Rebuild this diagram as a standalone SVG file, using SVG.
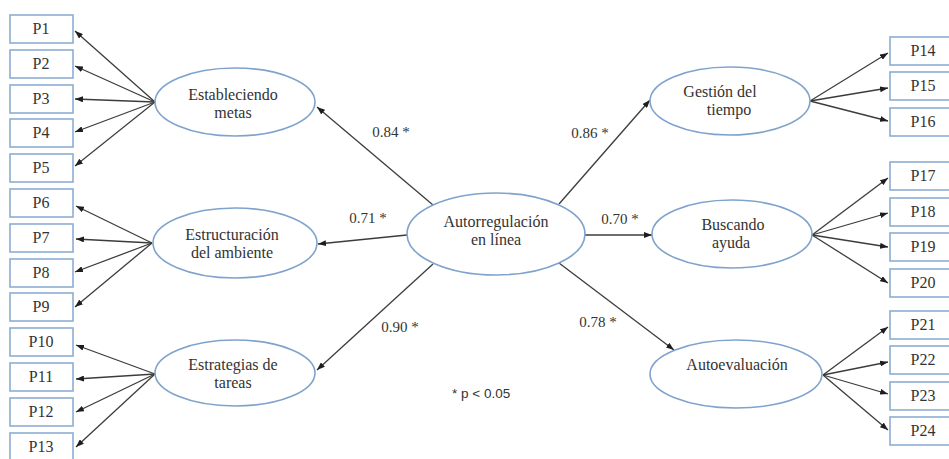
<svg xmlns="http://www.w3.org/2000/svg" width="949" height="459" viewBox="0 0 949 459">
<defs>
<marker id="ah" viewBox="0 0 8 6" refX="8" refY="3" markerWidth="8" markerHeight="6" markerUnits="userSpaceOnUse" orient="auto"><path d="M0,0 L8,3 L0,6 z" fill="#1e1e1e"/></marker>
</defs>
<style>
.box{fill:#fff;stroke:#8cadd3;stroke-width:1.6}
.ell{fill:#fff;stroke:#7fa3cc;stroke-width:1.6}
text.t{font-family:'Liberation Serif','Times New Roman',serif;font-size:15px;fill:#333;text-anchor:middle}
text.b{font-size:16px}
.c line{stroke:#3c3c3c;stroke-width:1.3;marker-end:url(#ah)}
text.n{font-family:'Liberation Sans',Arial,sans-serif;font-size:13.5px;fill:#333}
</style>
<rect width="949" height="459" fill="#fff"/>
<g class="c" id="connectors">
<line x1="155" y1="102" x2="75" y2="31"/>
<line x1="155" y1="102" x2="75" y2="66"/>
<line x1="155" y1="102" x2="75" y2="99"/>
<line x1="155" y1="102" x2="75" y2="132"/>
<line x1="155" y1="102" x2="75" y2="166"/>
<line x1="152" y1="243" x2="76" y2="206"/>
<line x1="152" y1="243" x2="76" y2="239"/>
<line x1="152" y1="243" x2="75" y2="272"/>
<line x1="152" y1="243" x2="75" y2="307"/>
<line x1="155" y1="374" x2="76" y2="345"/>
<line x1="155" y1="374" x2="76" y2="379"/>
<line x1="155" y1="374" x2="76" y2="412"/>
<line x1="155" y1="374" x2="76" y2="447"/>
<line x1="810" y1="101" x2="888" y2="53"/>
<line x1="810" y1="101" x2="888" y2="88"/>
<line x1="810" y1="101" x2="888" y2="121"/>
<line x1="812" y1="235" x2="888" y2="178"/>
<line x1="812" y1="235" x2="888" y2="213"/>
<line x1="812" y1="235" x2="888" y2="247"/>
<line x1="812" y1="235" x2="888" y2="283"/>
<line x1="823" y1="375" x2="888" y2="327"/>
<line x1="823" y1="375" x2="888" y2="362"/>
<line x1="823" y1="375" x2="888" y2="394"/>
<line x1="823" y1="375" x2="888" y2="430"/>
<line x1="433" y1="205" x2="317" y2="107"/>
<line x1="407" y1="235" x2="318" y2="244"/>
<line x1="433" y1="264" x2="317" y2="370"/>
<line x1="559" y1="204" x2="650" y2="100"/>
<line x1="585" y1="235" x2="652" y2="235"/>
<line x1="559" y1="263" x2="674" y2="350"/>
</g>
<g id="labels">
<text class="t" x="391" y="137">0.84 *</text>
<text class="t" x="368" y="223">0.71 *</text>
<text class="t" x="400" y="332">0.90 *</text>
<text class="t" x="590" y="138">0.86 *</text>
<text class="t" x="620" y="224">0.70 *</text>
<text class="t" x="598" y="327">0.78 *</text>
<text class="n" x="452" y="398">* p &lt; 0.05</text>
</g>
<g id="L1"><ellipse class="ell" cx="235" cy="102" rx="80" ry="34"/><text class="t b" x="233" y="100">Estableciendo</text><text class="t b" x="233" y="118">metas</text></g>
<g id="L2"><ellipse class="ell" cx="235" cy="243" rx="82" ry="35"/><text class="t b" x="232" y="240">Estructuración</text><text class="t b" x="232" y="258">del ambiente</text></g>
<g id="L3"><ellipse class="ell" cx="235" cy="373" rx="80" ry="33"/><text class="t b" x="233" y="370">Estrategias de</text><text class="t b" x="233" y="388">tareas</text></g>
<g id="C"><ellipse class="ell" cx="496" cy="234" rx="89" ry="41"/><text class="t b" x="496" y="227">Autorregulación</text><text class="t b" x="496" y="245">en línea</text></g>
<g id="R1"><ellipse class="ell" cx="730" cy="101" rx="80" ry="34"/><text class="t b" x="720" y="97">Gestión del</text><text class="t b" x="729" y="115">tiempo</text></g>
<g id="R2"><ellipse class="ell" cx="732" cy="234" rx="80" ry="34"/><text class="t b" x="733" y="230">Buscando</text><text class="t b" x="731" y="248">ayuda</text></g>
<g id="R3"><ellipse class="ell" cx="736" cy="374" rx="86" ry="34"/><text class="t b" x="737" y="370">Autoevaluación</text></g>
<g id="P1"><rect class="box" x="10" y="15" width="63" height="28"/><text class="t b" x="41" y="34">P1</text></g>
<g id="P2"><rect class="box" x="10" y="50" width="63" height="28"/><text class="t b" x="41" y="69">P2</text></g>
<g id="P3"><rect class="box" x="10" y="85" width="63" height="28"/><text class="t b" x="41" y="104">P3</text></g>
<g id="P4"><rect class="box" x="10" y="119" width="63" height="28"/><text class="t b" x="41" y="138">P4</text></g>
<g id="P5"><rect class="box" x="10" y="154" width="63" height="28"/><text class="t b" x="41" y="173">P5</text></g>
<g id="P6"><rect class="box" x="10" y="189" width="63" height="28"/><text class="t b" x="41" y="208">P6</text></g>
<g id="P7"><rect class="box" x="10" y="224" width="63" height="28"/><text class="t b" x="41" y="243">P7</text></g>
<g id="P8"><rect class="box" x="10" y="259" width="63" height="28"/><text class="t b" x="41" y="278">P8</text></g>
<g id="P9"><rect class="box" x="10" y="293" width="63" height="28"/><text class="t b" x="41" y="312">P9</text></g>
<g id="P10"><rect class="box" x="10" y="328" width="63" height="28"/><text class="t b" x="41" y="347">P10</text></g>
<g id="P11"><rect class="box" x="10" y="363" width="63" height="28"/><text class="t b" x="41" y="382">P11</text></g>
<g id="P12"><rect class="box" x="10" y="398" width="63" height="28"/><text class="t b" x="41" y="417">P12</text></g>
<g id="P13"><rect class="box" x="10" y="433" width="63" height="28"/><text class="t b" x="41" y="452">P13</text></g>
<g id="P14"><rect class="box" x="890" y="37" width="66" height="28"/><text class="t b" x="923" y="56">P14</text></g>
<g id="P15"><rect class="box" x="890" y="72" width="66" height="28"/><text class="t b" x="923" y="91">P15</text></g>
<g id="P16"><rect class="box" x="890" y="108" width="66" height="28"/><text class="t b" x="923" y="127">P16</text></g>
<g id="P17"><rect class="box" x="890" y="162" width="66" height="28"/><text class="t b" x="923" y="181">P17</text></g>
<g id="P18"><rect class="box" x="890" y="198" width="66" height="28"/><text class="t b" x="923" y="217">P18</text></g>
<g id="P19"><rect class="box" x="890" y="233" width="66" height="28"/><text class="t b" x="923" y="252">P19</text></g>
<g id="P20"><rect class="box" x="890" y="269" width="66" height="28"/><text class="t b" x="923" y="288">P20</text></g>
<g id="P21"><rect class="box" x="890" y="311" width="66" height="28"/><text class="t b" x="923" y="330">P21</text></g>
<g id="P22"><rect class="box" x="890" y="346" width="66" height="28"/><text class="t b" x="923" y="365">P22</text></g>
<g id="P23"><rect class="box" x="890" y="382" width="66" height="28"/><text class="t b" x="923" y="401">P23</text></g>
<g id="P24"><rect class="box" x="890" y="417" width="66" height="28"/><text class="t b" x="923" y="436">P24</text></g>
</svg>
